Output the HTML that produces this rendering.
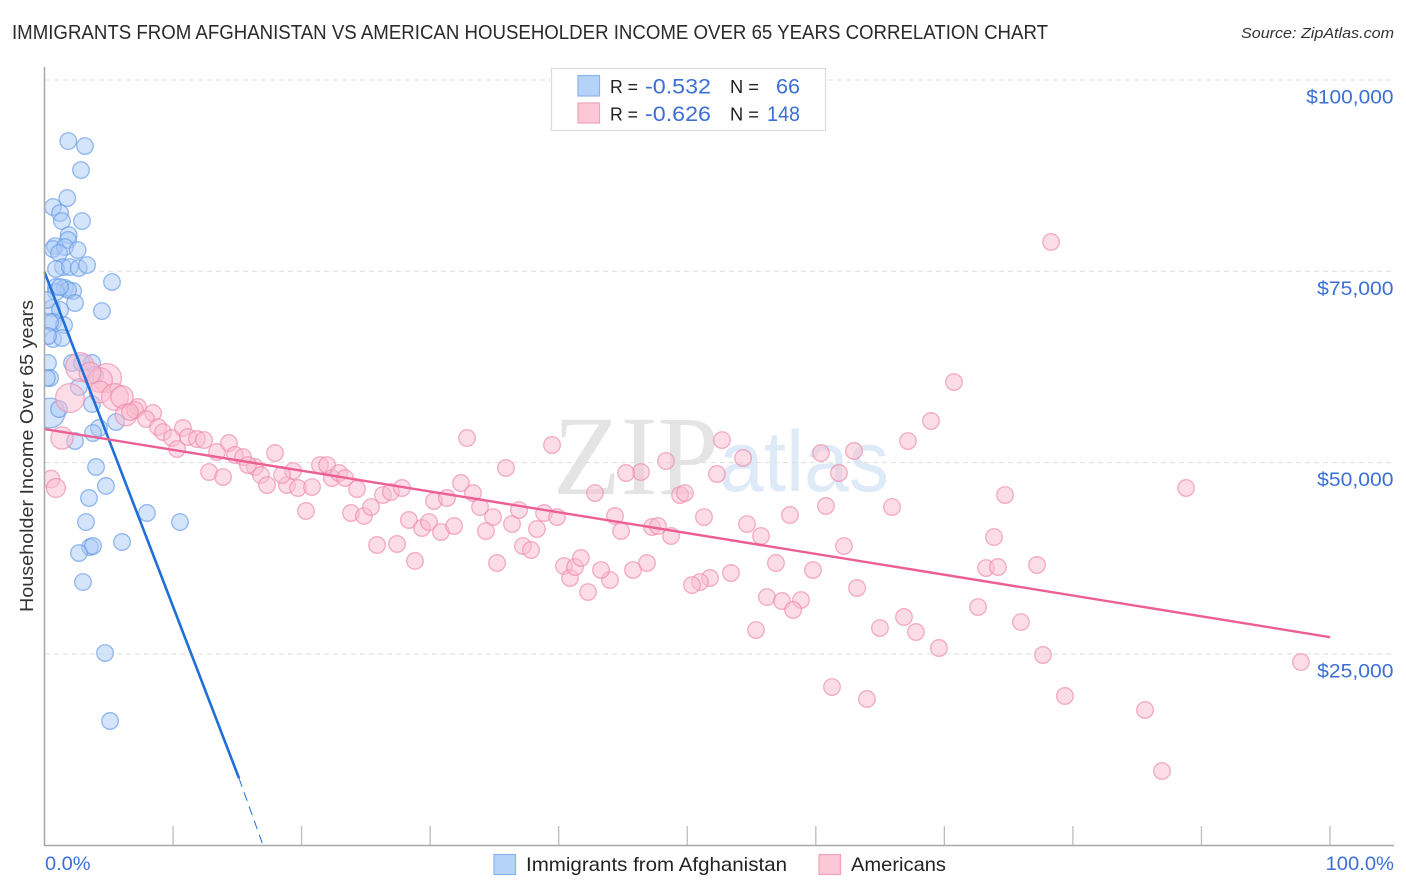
<!DOCTYPE html>
<html>
<head>
<meta charset="utf-8">
<title>Immigrants from Afghanistan vs American Householder Income Over 65 Years Correlation Chart</title>
<style>
html,body{margin:0;padding:0;background:#fff;width:1406px;height:892px;overflow:hidden}
svg{display:block}
text{font-family:"Liberation Sans",sans-serif}
</style>
</head>
<body>
<svg id="chart" xmlns="http://www.w3.org/2000/svg" width="1406" height="892" viewBox="0 0 1406 892">
  <defs><clipPath id="plot-clip"><rect x="45" y="60" width="1350" height="786"/></clipPath></defs>
  <rect width="1406" height="892" fill="#fff"/>
  <text x="12" y="39" font-size="20" fill="#2a2a2a" textLength="1036" lengthAdjust="spacingAndGlyphs">IMMIGRANTS FROM AFGHANISTAN VS AMERICAN HOUSEHOLDER INCOME OVER 65 YEARS CORRELATION CHART</text>
  <text x="1241" y="38" font-size="15" font-style="italic" fill="#333" textLength="153" lengthAdjust="spacingAndGlyphs">Source: ZipAtlas.com</text>
  <g>
    <text x="553" y="494" font-size="113" fill="#e4e4e4" style="font-family:'Liberation Serif',serif" textLength="166" lengthAdjust="spacingAndGlyphs">ZIP</text>
    <text x="719" y="491" font-size="86" fill="#dfeaf8" textLength="170" lengthAdjust="spacingAndGlyphs">atlas</text>
  </g>
  <g id="grid"></g>
  <g id="xticks"></g>
  <g id="blue-points" clip-path="url(#plot-clip)"></g>
  <g id="pink-points" clip-path="url(#plot-clip)"></g>
  <g id="trends"></g>
  <line x1="44.5" y1="67" x2="44.5" y2="845.5" stroke="#a8a8a8" stroke-width="1.5"/>
  <line x1="44" y1="845.5" x2="1394" y2="845.5" stroke="#a8a8a8" stroke-width="1.5"/>
  <g id="ylabels"></g>
  <g id="xlabels"></g>
  <text transform="translate(33,612) rotate(-90)" font-size="18" fill="#333" textLength="312" lengthAdjust="spacingAndGlyphs">Householder Income Over 65 years</text>

  <g>
    <rect x="551.5" y="68.5" width="274" height="62" fill="#fff" stroke="#ddd" stroke-width="1.3"/>
    <rect x="578" y="75.5" width="21.5" height="20.5" fill="#b5d2f8" stroke="#8db4ea" stroke-width="1.2"/>
    <rect x="578" y="103" width="21.5" height="20" fill="#fcc8d8" stroke="#f0a3bc" stroke-width="1.2"/>
    <text x="610" y="93" font-size="18" fill="#222" textLength="28" lengthAdjust="spacingAndGlyphs">R =</text>
    <text x="645" y="93.5" font-size="21" fill="#3a70d6" textLength="66" lengthAdjust="spacingAndGlyphs">-0.532</text>
    <text x="730" y="93" font-size="18" fill="#222" textLength="29" lengthAdjust="spacingAndGlyphs">N =</text>
    <text x="776" y="93.5" font-size="21" fill="#3a70d6" textLength="24" lengthAdjust="spacingAndGlyphs">66</text>
    <text x="610" y="120.5" font-size="18" fill="#222" textLength="28" lengthAdjust="spacingAndGlyphs">R =</text>
    <text x="645" y="121" font-size="21" fill="#3a70d6" textLength="66" lengthAdjust="spacingAndGlyphs">-0.626</text>
    <text x="730" y="120.5" font-size="18" fill="#222" textLength="29" lengthAdjust="spacingAndGlyphs">N =</text>
    <text x="767" y="121" font-size="21" fill="#3a70d6" textLength="33" lengthAdjust="spacingAndGlyphs">148</text>
  </g>

  <g>
    <rect x="494" y="854.5" width="21.5" height="20" fill="#b5d2f8" stroke="#8db4ea" stroke-width="1.2"/>
    <text x="526" y="871" font-size="19.5" fill="#222" textLength="261" lengthAdjust="spacingAndGlyphs">Immigrants from Afghanistan</text>
    <rect x="819" y="854.5" width="21.5" height="20" fill="#fcc8d8" stroke="#f0a3bc" stroke-width="1.2"/>
    <text x="851" y="871" font-size="19.5" fill="#222" textLength="95" lengthAdjust="spacingAndGlyphs">Americans</text>
  </g>
</svg>
<script>
const yTickValues = [100000, 75000, 50000, 25000];
const yTickLabels = ["$100,000", "$75,000", "$50,000", "$25,000"];
const xTickValues = [10, 20, 30, 40, 50, 60, 70, 80, 90, 100];
const xEndValues = [0, 100];
const xEndLabels = ["0.0%", "100.0%"];

const blueX = [1.85,3.15,2.84,1.77,.66,1.21,1.36,2.92,1.88,1.83,.82,.66,1.59,2.58,1.13,1.44,.89,1.98,2.66,3.31,5.25,.89,1.59,2.22,1.83,.89,2.37,4.47,.58,1.21,.66,1.52,.66,1.36,.19,.43,.27,.43,.19,2.14,2.92,3.70,3.93,2.68,3.70,.43,1.13,5.56,4.24,3.77,2.37,4.01,4.78,3.46,3.23,7.97,10.54,6.03,3.54,3.77,2.68,2.99,4.71,5.10,.27,1.21];
const blueY = [92020,91370,88235,84576,83400,82616,81570,81570,79740,79090,78305,77912,78174,77782,77390,75560,75300,75560,75430,75820,73600,72950,72820,72425,72555,72295,70860,69810,70200,69940,68375,67980,66150,66285,71250,68375,63020,61060,61060,63020,63020,63020,61450,59880,57660,56485,57007,55310,54525,53870,52825,49430,46950,45380,42240,43420,42240,39630,38975,39105,38190,34400,25125,16240,66545,72950];
const blueWeight = [1,1,1,1,1,1,1,1,1,1,1,1,1,1,1,1,1,1,1,1,1,1,1,1,1,1,1,1,1,1,1,1,1,1,1,1,1,1,1,1,1,1,1,1,1,3.2];

const pinkX = [2.76,4.86,1.98,4.32,3.54,4.32,5.48,6.03,6.34,1.36,.51,.89,7.27,7.04,6.65,8.44,7.90,8.83,9.22,9.92,10.77,11.16,11.86,12.41,10.31,13.42,14.35,14.82,15.44,16.37,15.83,16.84,17.93,12.80,13.89,17.31,18.86,19.33,19.72,20.34,18.48,20.81,21.43,21.98,22.36,22.91,23.38,24.31,23.84,24.85,25.40,25.87,27.42,28.82,26.33,26.95,27.81,28.35,29.37,29.91,30.84,31.86,30.30,31.31,32.40,33.33,33.88,34.89,36.37,34.34,35.20,37.22,37.85,38.31,36.91,38.86,39.87,32.87,39.48,35.90,40.41,40.88,41.27,41.73,52.70,54.34,48.35,46.40,45.24,42.82,49.44,49.82,52.31,60.40,62.97,61.80,60.79,57.99,51.30,44.38,44.85,47.26,47.72,48.74,54.65,55.74,62.19,56.90,59.78,63.21,53.40,51.77,50.99,50.37,46.87,45.78,43.99,43.29,42.28,56.20,57.37,58.85,58.23,55.35,61.26,78.30,70.75,68.96,67.17,65.93,74.72,73.86,77.21,73.24,74.17,88.80,72.62,75.96,66.86,67.79,69.58,64.99,77.67,79.38,85.61,86.93,97.74,63.98];
const pinkY = [62495,61060,58445,60795,61710,59230,58575,58575,56225,53218,47860,46685,57270,56875,56615,56485,55700,54655,54000,53218,54525,53350,53090,52955,51780,51390,52565,51000,50735,49430,49690,48385,51260,48775,48120,47075,47075,48906,46685,43680,48385,46815,49690,49690,47990,48645,47990,46555,43420,43030,44200,39240,39370,37150,45770,46160,46685,42505,41460,42240,40935,41720,44985,45380,47340,46030,44200,42895,41980,41065,36885,39105,38585,41330,43810,43420,42895,53218,52305,49300,36490,34925,36365,37540,52955,50605,50215,48775,48645,46030,45770,46030,48515,51260,51520,48645,44335,43160,42895,43030,41065,41590,41720,40415,41980,40415,39105,36885,35970,33620,35580,34925,34400,34010,36885,35970,34665,35970,33095,32440,31920,32050,30745,28130,20680,78830,60535,55440,52825,44200,45770,40280,36625,36230,36365,46685,31135,29175,29830,27870,25780,28390,24865,19510,17680,9710,23950,19115];
const pinkWeight = [3,3,3,2.2,1.7,1.7,2.6,1.8,1.7,1.8,1.1,1.3];

const blueTrendX = [0, 15.13];
const blueTrendY = [74900, 8770];
const blueDashX = [15.13, 17];
const blueDashY = [8770, 0];
const pinkTrendX = [0, 100];
const pinkTrendY = [54385, 27200];

const svgNS = "http://www.w3.org/2000/svg";
const xScale = v => 44.5 + v * 12.855;
const yScale = v => 845.3 - v * 0.0076532;
const make = (tag, parentId) => {
  const el = document.createElementNS(svgNS, tag);
  document.getElementById(parentId).appendChild(el);
  return el;
};
const setAttrs = (el, attrs) => { for (const k in attrs) el.setAttribute(k, attrs[k]); };

yTickValues.forEach((v, i) => {
  const line = make("line", "grid");
  
  
  setAttrs(line, { x1: 45, x2: 1394, y1: yScale(v), y2: yScale(v), stroke: "#dedede", "stroke-width": 1, "stroke-dasharray": "5 4" });
  const label = make("text", "ylabels");
  
  
  setAttrs(label, { x: 1393.5, y: yScale(v) + 23.5, "text-anchor": "end", "font-size": 19.5, fill: "#3a70d6", textLength: yTickLabels[i].length * 10.9, lengthAdjust: "spacingAndGlyphs" });
  label.textContent = yTickLabels[i];
});

xTickValues.forEach(v => {
  const tick = make("line", "xticks");
  
  
  setAttrs(tick, { x1: xScale(v), x2: xScale(v), y1: 826, y2: 845, stroke: "#bdbdbd", "stroke-width": 1.3 });
});

xEndValues.forEach((v, i) => {
  const label = make("text", "xlabels");
  
  
  setAttrs(label, { x: i === 0 ? xScale(v) + 0.5 : 1394, y: 870, "text-anchor": i === 0 ? "start" : "end", "font-size": 19.5, fill: "#3a70d6", textLength: xEndLabels[i].length * 11.4, lengthAdjust: "spacingAndGlyphs" });
  label.textContent = xEndLabels[i];
});

const radius = w => 8.3 * Math.sqrt(w === undefined ? 1 : w);

blueX.forEach((x, i) => {
  const c = make("circle", "blue-points");
  
  
  setAttrs(c, { cx: xScale(x), cy: yScale(blueY[i]), r: radius(blueWeight[i]), fill: "#a9c9f6", "fill-opacity": 0.5, stroke: "#5f97e6", "stroke-opacity": 0.65, "stroke-width": 1.3 });
});

pinkX.forEach((x, i) => {
  const c = make("circle", "pink-points");
  
  
  setAttrs(c, { cx: xScale(x), cy: yScale(pinkY[i]), r: radius(pinkWeight[i]), fill: "#f9bccf", "fill-opacity": 0.5, stroke: "#ee85a8", "stroke-opacity": 0.65, "stroke-width": 1.3 });
});

const blueLine = make("line", "trends");


setAttrs(blueLine, { x1: xScale(blueTrendX[0]), y1: yScale(blueTrendY[0]), x2: xScale(blueTrendX[1]), y2: yScale(blueTrendY[1]), stroke: "#1f6fd8", "stroke-width": 2.6 });

const blueDash = make("line", "trends");


setAttrs(blueDash, { x1: xScale(blueDashX[0]), y1: yScale(blueDashY[0]), x2: xScale(blueDashX[1]), y2: yScale(blueDashY[1]), stroke: "#1f6fd8", "stroke-width": 1, "stroke-dasharray": "9 6" });

const pinkLine = make("line", "trends");


setAttrs(pinkLine, { x1: xScale(pinkTrendX[0]), y1: yScale(pinkTrendY[0]), x2: xScale(pinkTrendX[1]), y2: yScale(pinkTrendY[1]), stroke: "#ec5f93", "stroke-width": 2.4 });
</script>
</body>
</html>
